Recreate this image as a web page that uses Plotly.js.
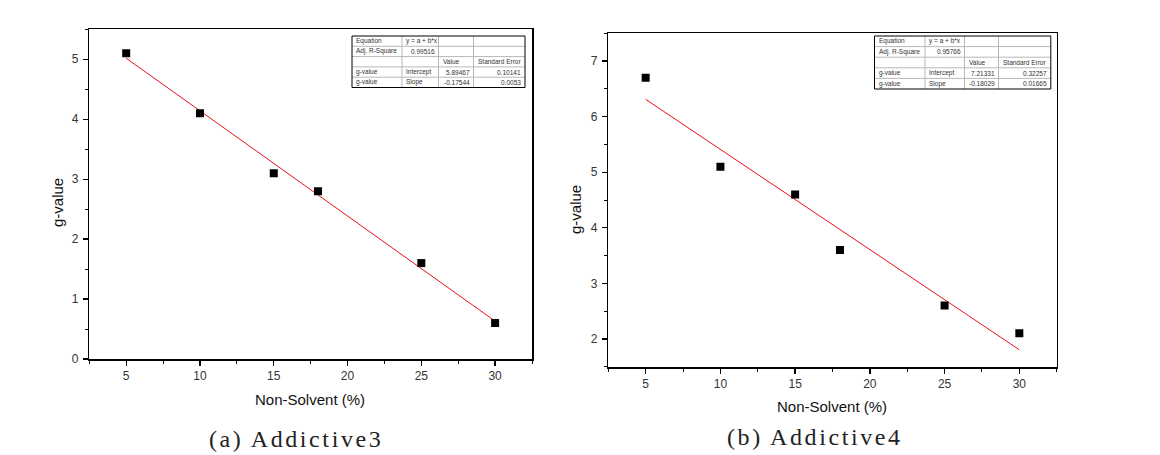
<!DOCTYPE html>
<html>
<head>
<meta charset="utf-8">
<script src="https://cdn.plot.ly/plotly-3.0.1.min.js"></script>
<style>
  html, body { margin: 0; padding: 0; background: #fff; }
  #chart { width: 1160px; height: 455px; }
  /* wide spacing like the Batang captions of the original */
  .annotation-text[data-unformatted^="("] { letter-spacing: 2.6px; }
</style>
</head>
<body>
<div id="chart"></div>
<script>
var W = 1160, H = 455;

// data
var nonSolvent = [5, 10, 15, 18, 25, 30];
var gValue3 = [5.1, 4.1, 3.1, 2.8, 1.6, 0.6];
var gValue4 = [6.7, 5.1, 4.6, 3.6, 2.6, 2.1];

// linear fit results (from the Origin tables)
var fitX = [5, 30];
var fit3 = [5.89467, -0.17544]; // intercept, slope
var fit4 = [7.21331, -0.18029];

var table3 = [
  ['Equation', 'y = a + b*x', '', ''],
  ['Adj. R-Square', '0.99516', '', ''],
  ['', '', 'Value', 'Standard Error'],
  ['g-value', 'Intercept', '5.89467', '0.10141'],
  ['g-value', 'Slope', '-0.17544', '0.0053']
];
var table4 = [
  ['Equation', 'y = a + b*x', '', ''],
  ['Adj. R-Square', '0.95766', '', ''],
  ['', '', 'Value', 'Standard Error'],
  ['g-value', 'Intercept', '7.21331', '0.32257'],
  ['g-value', 'Slope', '-0.18029', '0.01665']
];

var captions = ['(a) Addictive3', '(b) Addictive4'];

// pixel -> paper helpers
function px(x) { return x / W; }
function py(y) { return 1 - y / H; }

function fitLine(p) {
  return fitX.map(function (x) { return p[0] + p[1] * x; });
}

var data = [
  {type: 'scatter', x: fitX, y: fitLine(fit3), mode: 'lines', xaxis: 'x', yaxis: 'y',
   line: {color: '#e8101a', width: 1}, showlegend: false, hoverinfo: 'skip'},
  {type: 'scatter', x: nonSolvent, y: gValue3, mode: 'markers', xaxis: 'x', yaxis: 'y',
   marker: {symbol: 'square', size: 8, color: '#000'}, showlegend: false},
  {type: 'scatter', x: fitX, y: fitLine(fit4), mode: 'lines', xaxis: 'x2', yaxis: 'y2',
   line: {color: '#e8101a', width: 1}, showlegend: false, hoverinfo: 'skip'},
  {type: 'scatter', x: nonSolvent, y: gValue4, mode: 'markers', xaxis: 'x2', yaxis: 'y2',
   marker: {symbol: 'square', size: 8, color: '#000'}, showlegend: false}
];

var tickFont = {family: 'Liberation Sans, Arial, sans-serif', size: 12, color: '#333'};
var titleFont = {family: 'Liberation Sans, Arial, sans-serif', size: 15, color: '#111'};

function xAxis(domain, anchor) {
  return {
    domain: domain, anchor: anchor, range: [2.5, 32.5],
    tick0: 5, dtick: 5, ticks: 'outside', ticklen: 5, tickwidth: 1.3, tickcolor: '#000',
    minor: {dtick: 2.5, ticks: 'outside', ticklen: 3, tickwidth: 1, tickcolor: '#000'},
    showline: true, linewidth: 1.8, linecolor: '#000', mirror: true,
    showgrid: false, zeroline: false, tickfont: tickFont
  };
}
function yAxis(domain, anchor, range) {
  return {
    domain: domain, anchor: anchor, range: range,
    dtick: 1, ticks: 'outside', ticklen: 5, tickwidth: 1.3, tickcolor: '#000',
    minor: {dtick: 0.5, ticks: 'outside', ticklen: 3, tickwidth: 1, tickcolor: '#000'},
    showline: true, linewidth: 1.5, linecolor: '#000', mirror: true,
    showgrid: false, zeroline: false, tickfont: tickFont, ticklabelstandoff: 2
  };
}

var shapes = [];
var annotations = [];

// Origin style fit table drawn with shapes + annotations
function addTable(rows, left, top, colW, rowH) {
  var x = [left];
  colW.forEach(function (w) { x.push(x[x.length - 1] + w); });
  var bottom = top + rowH * rows.length;
  // inner grid
  for (var r = 1; r < rows.length; r++) {
    shapes.push({type: 'line', xref: 'paper', yref: 'paper',
      x0: px(left), x1: px(x[x.length - 1]), y0: py(top + r * rowH), y1: py(top + r * rowH),
      line: {color: '#b8b8b8', width: 1}});
  }
  for (var c = 1; c < colW.length; c++) {
    shapes.push({type: 'line', xref: 'paper', yref: 'paper',
      x0: px(x[c]), x1: px(x[c]), y0: py(top), y1: py(bottom),
      line: {color: '#b8b8b8', width: 1}});
  }
  shapes.push({type: 'rect', xref: 'paper', yref: 'paper',
    x0: px(left), x1: px(x[x.length - 1]), y0: py(top), y1: py(bottom),
    line: {color: '#000', width: 1}});
  rows.forEach(function (row, r) {
    row.forEach(function (txt, c) {
      if (!txt) return;
      var isNum = /^-?[0-9.]+$/.test(txt);
      annotations.push({
        xref: 'paper', yref: 'paper', showarrow: false, text: txt,
        x: px(isNum ? x[c + 1] - 2 : x[c] + 2), y: py(top + (r + 0.5) * rowH),
        xanchor: isNum ? 'right' : 'left', yanchor: 'middle',
        font: {family: 'Liberation Sans, Arial, sans-serif', size: 6.5, color: '#333'}
      });
    });
  });
}

addTable(table3, 352, 36, [50, 36.5, 35, 51.5], 10.3);
addTable(table4, 874.5, 36, [50.5, 39.5, 34, 52.3], 10.6);

function addText(txt, x, y, font, angle) {
  annotations.push({xref: 'paper', yref: 'paper', showarrow: false, text: txt,
    x: px(x), y: py(y), xanchor: 'center', yanchor: 'middle', font: font, textangle: angle || 0});
}

addText('Non-Solvent (%)', 310, 399, titleFont);
addText('g-value', 57, 203, titleFont, -90);
addText('Non-Solvent (%)', 832, 406.5, titleFont);
addText('g-value', 575, 210, titleFont, -90);

var capFont = {family: 'Liberation Serif, serif', size: 24, color: '#222'};
addText(captions[0], 296, 439, capFont);
addText(captions[1], 815, 437, capFont);

var layout = {
  width: W, height: H,
  margin: {l: 0, r: 0, t: 0, b: 0},
  paper_bgcolor: '#fff', plot_bgcolor: '#fff',
  showlegend: false,
  xaxis: xAxis([px(89.3), px(532)], 'y'),
  yaxis: yAxis([py(359), py(29.3)], 'x', [0, 5.5]),
  xaxis2: xAxis([px(608.3), px(1056.7)], 'y2'),
  yaxis2: yAxis([py(366.7), py(33.3)], 'x2', [1.5, 7.5]),
  shapes: shapes,
  annotations: annotations
};

Plotly.newPlot('chart', data, layout, {displayModeBar: false, staticPlot: true});
</script>
</body>
</html>
